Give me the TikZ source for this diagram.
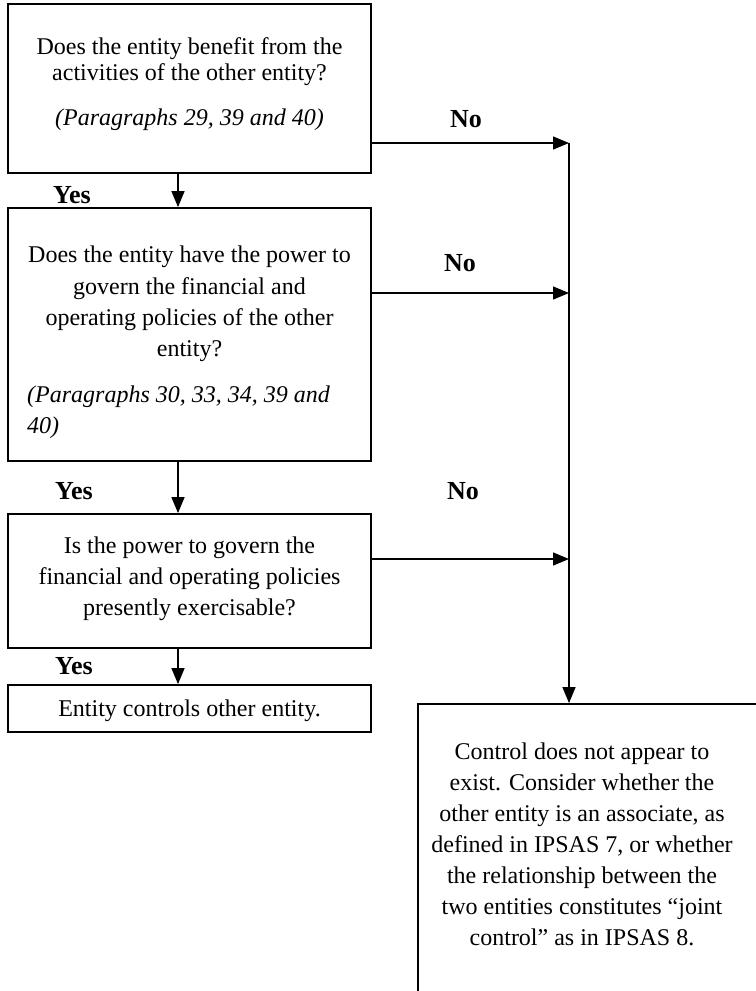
\documentclass[tikz,border=0pt]{standalone}
\usepackage{fontspec}
\setmainfont{Liberation Serif}
\usetikzlibrary{arrows.meta}
\begin{document}
\begin{tikzpicture}[x=1bp,y=-1bp,
  box/.style={draw,line width=1.8bp,inner sep=0},
  txt/.style={anchor=base,inner sep=0,font=\fontsize{24bp}{28bp}\selectfont},
  itxt/.style={anchor=base,inner sep=0,font=\fontsize{24bp}{28bp}\selectfont\itshape},
  ltxt/.style={anchor=base west,inner sep=0,font=\fontsize{24bp}{28bp}\selectfont\itshape},
  lbl/.style={anchor=base,inner sep=0,font=\fontsize{26bp}{30bp}\selectfont\bfseries},
  arr/.style={line width=1.4bp,-{Triangle[length=16bp,width=13bp]}}]
\useasboundingbox (0,0) rectangle (756,991);
\clip (0,0) rectangle (756,991);
% boxes
\node[box,minimum width=363bp,minimum height=169bp] (b1) at (189.5,88.5) {};
\node[box,minimum width=363bp,minimum height=253bp] (b2) at (189.5,334.5) {};
\node[box,minimum width=363bp,minimum height=134bp] (b3) at (189.5,581) {};
\node[box,minimum width=363bp,minimum height=47bp] (b4) at (189.5,708.5) {};
\node[box,minimum width=352bp,minimum height=306bp] (b5) at (594,857) {};
% texts box 1
\node[txt] (t1a) at (189.5,54) {Does the entity benefit from the};
\node[txt] (t1b) at (189.5,80) {activities of the other entity?};
\node[itxt] (t1c) at (189.5,125) {(Paragraphs 29, 39 and 40)};
% box 2
\node[txt] (t2a) at (189.5,262) {Does the entity have the power to};
\node[txt] (t2b) at (189.5,294) {govern the financial and};
\node[txt] (t2c) at (189.5,325) {operating policies of the other};
\node[txt] (t2d) at (189.5,356) {entity?};
\node[ltxt] (t2e) at (27,402) {(Paragraphs 30, 33, 34, 39 and};
\node[ltxt] (t2f) at (27,433) {40)};
% box 3
\node[txt] (t3a) at (189.5,553) {Is the power to govern the};
\node[txt] (t3b) at (189.5,584) {financial and operating policies};
\node[txt] (t3c) at (189.5,615) {presently exercisable?};
% box 4
\node[txt] (t4a) at (189.5,716) {Entity controls other entity.};
% box 5
\node[txt] (t5a) at (582,759) {Control does not appear to};
\node[txt] (t5b) at (582,790) {exist. Consider whether the};
\node[txt] (t5c) at (582,821) {other entity is an associate, as};
\node[txt] (t5d) at (582,852) {defined in IPSAS 7, or whether};
\node[txt] (t5e) at (582,883) {the relationship between the};
\node[txt] (t5f) at (582,914) {two entities constitutes “joint};
\node[txt] (t5g) at (582,945) {control” as in IPSAS 8.};
% labels
\node[lbl] (y1) at (72,203) {Yes};
\node[lbl] (y2) at (74,499) {Yes};
\node[lbl] (y3) at (74,674) {Yes};
\node[lbl] (n1) at (466,127) {No};
\node[lbl] (n2) at (460,271) {No};
\node[lbl] (n3) at (463,499) {No};
% connector coordinates
\coordinate (ax) at (178,0);
\coordinate (j1) at (569,143);
\coordinate (j2) at (569,293);
\coordinate (j3) at (569,559);
% connectors
\draw[arr] (b1.south -| ax) -- (b2.north -| ax);
\draw[arr] (b2.south -| ax) -- (b3.north -| ax);
\draw[arr] (b3.south -| ax) -- (b4.north -| ax);
\draw[arr] (b1.east |- j1) -- (j1);
\draw[arr] (b2.east |- j2) -- (j2);
\draw[arr] (b3.east |- j3) -- (j3);
\draw[arr] (j1) -- (b5.north -| j1);
\end{tikzpicture}
\end{document}
